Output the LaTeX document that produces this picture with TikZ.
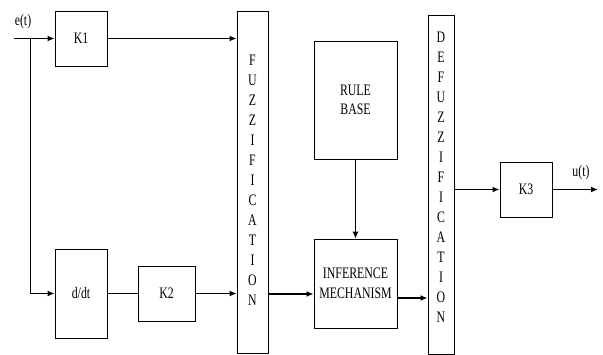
\documentclass[tikz,border=0pt]{standalone}
\usepackage{fontspec}
\setmainfont{Liberation Serif}[FakeStretch=0.74]
\usetikzlibrary{arrows.meta,calc}
\begin{document}
\begin{tikzpicture}[x=1pt,y=-1pt,
  every node/.style={font=\fontsize{16}{19.5}\selectfont},
  blk/.style={draw,line width=0.9pt,inner sep=0pt,align=center},
  thickline/.style={line width=1.8pt},
  thinline/.style={line width=1pt},
  arr/.style={-{Latex[length=7pt,width=6pt]}},
  lbl/.style={inner sep=0pt}]
\useasboundingbox (0,0) rectangle (603,354);
% blocks
\node[blk,minimum width=52pt,minimum height=55pt] (k1) at (81,38.5) {K1};
\node[blk,minimum width=52pt,minimum height=89pt] (ddt) at (81,293.5) {d/dt};
\node[blk,minimum width=57pt,minimum height=55pt] (k2) at (166.5,293.5) {K2};
\node[blk,minimum width=31pt,minimum height=342pt] (fuzz) at (252.5,182) {};
\node[lbl,align=center,font=\fontsize{16}{20}\selectfont] (fuzzt) at (252.5,180)
  {F\\U\\Z\\Z\\I\\F\\I\\C\\A\\T\\I\\O\\N};
\node[blk,minimum width=83pt,minimum height=118pt] (rb) at (355.5,100) {RULE\\BASE};
\node[blk,minimum width=83pt,minimum height=89pt] (inf) at (355.5,283.5) {INFERENCE\\MECHANISM};
\node[blk,minimum width=26pt,minimum height=339pt] (defuzz) at (441,184.5) {};
\node[lbl,align=center,font=\fontsize{16}{20}\selectfont] (defuzzt) at (441,177.5)
  {D\\E\\F\\U\\Z\\Z\\I\\F\\I\\C\\A\\T\\I\\O\\N};
\node[blk,minimum width=52pt,minimum height=55pt] (k3) at (526,189.5) {K3};
% labels
\node[lbl] (et) at (23,22) {e(t)};
\node[lbl] (ut) at (581,173) {u(t)};
% coordinates
\coordinate (in) at (14,38.5);
\coordinate (br) at (30,38.5);
\coordinate (out) at (598,189.5);
% connectors
\draw[thickline,arr] (in) -- (k1.west);
\draw[thinline] (br) -- (br |- ddt.west);
\draw[thickline,arr] (br |- ddt.west) -- (ddt.west);
\draw[thickline,arr] (k1.east) -- (k1.east -| fuzz.west);
\draw[thinline] (ddt.east) -- (k2.west);
\draw[thickline,arr] (k2.east) -- (k2.east -| fuzz.west);
\draw[thickline,arr] (fuzz.east |- 0,294) -- (inf.west |- 0,294);
\draw[thinline,arr] (rb.south) -- (inf.north);
\draw[thickline,arr] (inf.east |- 0,298) -- (defuzz.west |- 0,298);
\draw[thickline,arr] (k3.west -| defuzz.east) -- (k3.west);
\draw[thickline,arr] (k3.east) -- (out);
\end{tikzpicture}
\end{document}
